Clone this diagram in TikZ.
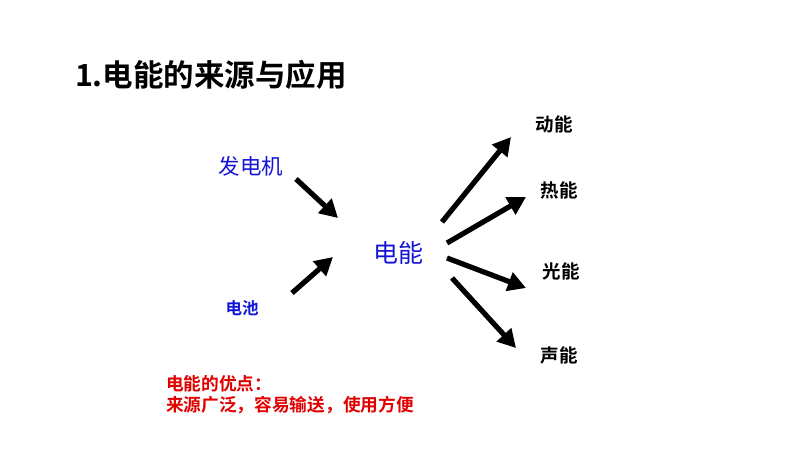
\documentclass[tikz,border=0pt]{standalone}
\usepackage{fontspec}
\usepackage{tikz}
\usetikzlibrary{arrows.meta}
\setmainfont{Noto Sans CJK SC}[BoldFont={Noto Sans CJK SC Bold}]
\definecolor{srcblue}{RGB}{20,20,215}
\definecolor{notered}{RGB}{225,0,0}
\tikzset{
  bigarrow/.style={line width=5.2pt, -{Triangle[length=18pt,width=19pt]}},
  kind/.style={font=\bfseries\fontsize{18.5}{22}\selectfont, text=black, inner sep=0pt},
}
\begin{document}
\begin{tikzpicture}[x=1pt, y=-1pt, every node/.style={outer sep=0pt}]
\useasboundingbox[fill=white] (0,0) rectangle (800,450);
\node[anchor=west, inner sep=0pt, font=\bfseries\fontsize{30.5}{34}\selectfont] (title) at (75,75) {1.电能的来源与应用};

\node[text=srcblue, inner sep=0pt, font=\fontsize{21.5}{24}\selectfont] (gen) at (251,166) {发电机};
\node[text=srcblue, inner sep=0pt, font=\bfseries\fontsize{16.5}{18}\selectfont] (bat) at (242,308) {电池};
\node[text=srcblue, inner sep=0pt, font=\fontsize{25}{28}\selectfont] (elec) at (398,253) {电能};

\node[kind] (move) at (554,124) {动能};
\node[kind] (heat) at (559,190) {热能};
\node[kind] (light) at (561,271) {光能};
\node[kind] (sound) at (559,355) {声能};

\node[anchor=north west, align=left, inner sep=0pt, text=notered, font=\bfseries\fontsize{17.7}{21}\selectfont] (adv) at (166,375) {电能的优点：\\来源广泛，容易输送，使用方便};

% arrow ends
\coordinate (g1) at (296,179); \coordinate (g2) at (338,218);
\coordinate (b1) at (292,293); \coordinate (b2) at (333,257);
\coordinate (m1) at (442,222); \coordinate (m2) at (511,137);
\coordinate (h1) at (447,243); \coordinate (h2) at (526,197);
\coordinate (l1) at (447,258); \coordinate (l2) at (526,288);
\coordinate (s1) at (452,278); \coordinate (s2) at (516,348);

\draw[bigarrow] (g1) -- (g2);
\draw[bigarrow] (b1) -- (b2);
\draw[bigarrow] (m1) -- (m2);
\draw[bigarrow] (h1) -- (h2);
\draw[bigarrow] (l1) -- (l2);
\draw[bigarrow] (s1) -- (s2);
\end{tikzpicture}
\end{document}
